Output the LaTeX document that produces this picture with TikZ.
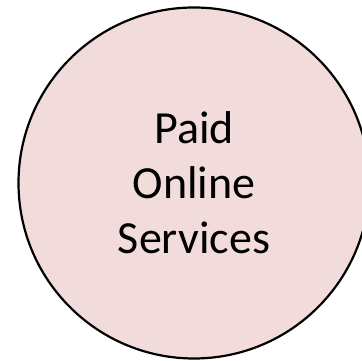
\documentclass[tikz,border=0pt]{standalone}
\usepackage{fontspec}
\setmainfont{Carlito}
\usepackage{tikz}
\definecolor{PaidPink}{HTML}{F2DCDB}

\begin{document}
\begin{tikzpicture}[x=1pt,y=1pt]
  \useasboundingbox (0,0) rectangle (362,361);
  \node[circle,draw=black,line width=2.2pt,fill=PaidPink,minimum size=351pt,inner sep=0pt,
        align=center,font=\fontsize{46}{55}\selectfont] (paid) at (194,178)
        {Paid\\Online\\Services};
\end{tikzpicture}
\end{document}
